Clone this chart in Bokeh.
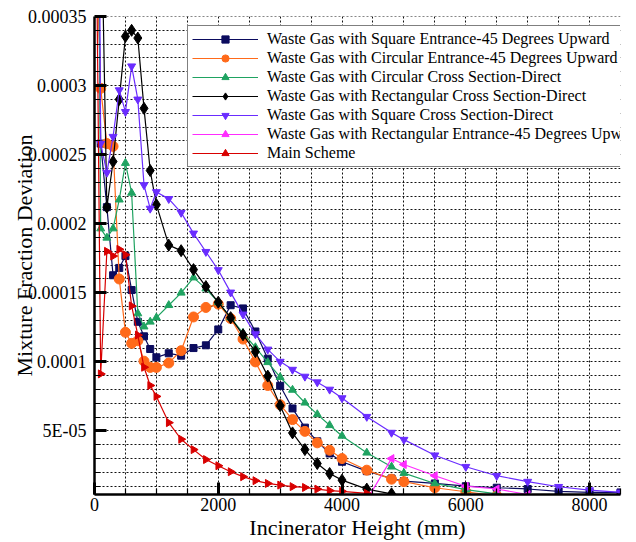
import math
from bokeh.plotting import figure
from bokeh.models import FixedTicker, CustomJSTickFormatter, Range1d
from bokeh.embed import file_html
from bokeh.resources import INLINE

# ---------------- data ----------------
X_A = [0, 100, 200, 300, 400, 500, 600, 700, 800, 900, 1000, 1200, 1400, 1600, 1800, 2000,
       2200, 2400, 2600, 2800, 3000, 3200, 3400, 3600, 3800, 4000, 4400, 4800, 5000, 5500,
       6000, 6500, 7000, 7500, 8000, 8500]

square_entrance_45 = [6.4e-4, 2.58e-4, 2.12e-4, 1.627e-4, 1.68e-4, 1.766e-4, 1.52e-4, 1.29e-4,
                      1.185e-4, 1.093e-4, 1.033e-4, 1.062e-4, 1.045e-4, 1.10e-4, 1.12e-4, 1.235e-4,
                      1.41e-4, 1.387e-4, 1.22e-4, 1.023e-4, 8.27e-5, 6.63e-5, 5.24e-5, 4.25e-5,
                      3.37e-5, 2.77e-5, 2.09e-5, 1.56e-5, 1.37e-5, 1.2e-5, 1.0e-5, 8.9e-6,
                      8.0e-6, 6.2e-6, 5.5e-6, 5.5e-6]

X_B = X_A[:32]
circular_entrance_45 = [4.5e-4, 2.98e-4, 2.58e-4, 2.56e-4, 1.60e-4, 1.214e-4, 1.134e-4, 1.153e-4,
                        1.005e-4, 9.6e-5, 9.6e-5, 9.92e-5, 1.081e-4, 1.325e-4, 1.394e-4, 1.418e-4,
                        1.314e-4, 1.165e-4, 1.0e-4, 8.29e-5, 6.9e-5, 5.82e-5, 4.97e-5, 4.14e-5,
                        3.6e-5, 3.0e-5, 2.16e-5, 1.51e-5, 1.33e-5, 8.9e-6, 6.0e-6, 3.0e-6]

circular_cross_direct = [9.0e-4, 1.965e-4, 1.898e-4, 1.965e-4, 2.174e-4, 2.439e-4, 2.223e-4, 1.35e-4,
                         1.255e-4, 1.29e-4, 1.32e-4, 1.41e-4, 1.50e-4, 1.61e-4, 1.53e-4, 1.43e-4,
                         1.32e-4, 1.209e-4, 1.105e-4, 9.97e-5, 8.89e-5, 7.97e-5, 7.04e-5, 6.2e-5,
                         5.41e-5, 4.64e-5, 3.42e-5, 2.41e-5, 1.95e-5, 1.2e-5, 7.5e-6, 4.5e-6]

X_D = X_A[1:28]
rect_cross_direct = [4.5e-4, 2.12e-4, 2.45e-4, 2.90e-4, 3.356e-4, 3.40e-4, 3.344e-4, 2.835e-4,
                     2.385e-4, 2.138e-4, 1.845e-4, 1.805e-4, 1.668e-4, 1.545e-4, 1.432e-4, 1.32e-4,
                     1.196e-4, 1.074e-4, 8.97e-5, 6.83e-5, 4.86e-5, 3.65e-5, 2.64e-5, 1.92e-5,
                     1.44e-5, 7.9e-6, 4.5e-6]

square_cross_direct = [1.0e-3, 2.58e-4, 2.37e-4, 2.63e-4, 2.967e-4, 2.81e-4, 3.14e-4, 2.90e-4,
                       2.28e-4, 2.11e-4, 2.23e-4, 2.18e-4, 2.08e-4, 1.93e-4, 1.797e-4, 1.665e-4,
                       1.503e-4, 1.344e-4, 1.201e-4, 1.09e-4, 1.002e-4, 9.44e-5, 8.94e-5, 8.53e-5,
                       8.0e-5, 7.38e-5, 6.03e-5, 4.88e-5, 4.37e-5, 3.24e-5, 2.41e-5, 1.76e-5,
                       1.33e-5, 9.6e-6, 7.2e-6, 5.5e-6]

X_F = [4400, 4800, 5000, 5500, 6000, 6500, 7000]
rect_entrance_45 = [0.0, 3.0e-5, 2.57e-5, 1.76e-5, 1.0e-5, 8.0e-6, 4.0e-6]

X_G = X_A[:27]
main_scheme = [5.5e-4, 9.13e-5, 1.80e-4, 1.766e-4, 1.815e-4, 1.775e-4, 1.405e-4, 1.194e-4,
               9.61e-5, 8.29e-5, 7.5e-5, 5.6e-5, 4.4e-5, 3.65e-5, 2.93e-5, 2.48e-5,
               2.05e-5, 1.69e-5, 1.4e-5, 1.2e-5, 1.08e-5, 9.7e-6, 9.1e-6, 7.9e-6,
               6.8e-6, 6.3e-6, 4.8e-6]

LABELS = ["Waste Gas with Square Entrance-45 Degrees Upward",
          "Waste Gas with Circular Entrance-45 Degrees Upward",
          "Waste Gas with Circular Cross Section-Direct",
          "Waste Gas with Rectangular Cross Section-Direct",
          "Waste Gas with Square Cross Section-Direct",
          "Waste Gas with Rectangular Entrance-45 Degrees Upward",
          "Main Scheme"]

X_MAJOR = [0, 2000, 4000, 6000, 8000]
X_GRID = [i * 500 for i in range(18)]
Y_MAJOR = [5e-05, 0.0001, 0.00015, 0.0002, 0.00025, 0.0003, 0.00035]
Y_MAJOR_LABELS = ["5E-05", "0.0001", "0.00015", "0.0002", "0.00025", "0.0003", "0.00035"]
Y_GRID = [i * 1e-05 for i in range(1, 36)]

# ---------------- figure ----------------
FONT = "'Liberation Serif', 'Times New Roman', serif"
p = figure(width=636, height=542, output_backend="svg", toolbar_location=None,
           x_range=Range1d(0, 8500), y_range=Range1d(4e-6, 3.5e-4),
           min_border_left=94, min_border_right=16, min_border_top=16, min_border_bottom=46)
p.outline_line_color = None
p.background_fill_color = "white"
p.border_fill_color = "white"

series = [
    (X_A, square_entrance_45, "#0b0b5e", "square", 7, 0),
    (X_B, circular_entrance_45, "#ff6a1a", "circle", 10, 0),
    (X_B, circular_cross_direct, "#1fa361", "triangle", 8, 0),
    (X_D, rect_cross_direct, "#000000", "diamond", 12, 0),
    (X_A, square_cross_direct, "#6a2cff", "inverted_triangle", 8, 0),
    (X_F, rect_entrance_45, "#ff2cff", "triangle", 8, math.pi / 2),
    (X_G, main_scheme, "#d80000", "triangle", 8, -math.pi / 2),
]
for (xs, ys, col, mk, sz, ang), lab in zip(series, LABELS):
    p.line(xs, ys, line_color=col, line_width=1.2, legend_label=lab)
    p.scatter(xs, ys, marker=mk, size=sz, angle=ang, fill_color=col, line_color=col,
              legend_label=lab)

# axes
for ax in (p.xaxis[0], p.yaxis[0]):
    ax.axis_line_width = 2.5
    ax.axis_line_color = "black"
    ax.major_tick_in = 12
    ax.major_tick_out = 0
    ax.minor_tick_in = 6
    ax.minor_tick_out = 0
    ax.major_tick_line_width = 3
    ax.minor_tick_line_width = 1.2
    ax.major_label_text_font = FONT
    ax.major_label_text_font_size = "18px"
    ax.major_label_text_font_style = "normal"
    ax.major_label_text_color = "black"
    ax.axis_label_text_font = FONT
    ax.axis_label_text_font_size = "22px"
    ax.axis_label_text_font_style = "normal"
    ax.axis_label_text_color = "black"

p.xaxis.ticker = FixedTicker(ticks=X_MAJOR, minor_ticks=X_GRID)
p.yaxis.ticker = FixedTicker(ticks=Y_MAJOR, minor_ticks=Y_GRID)
p.xaxis.major_label_standoff = 3
p.yaxis.major_label_standoff = 8
p.yaxis.formatter = CustomJSTickFormatter(args=dict(vals=Y_MAJOR, labs=Y_MAJOR_LABELS), code="""
let best = 0; let bd = 1e9;
for (let i = 0; i < vals.length; i++) { const d = Math.abs(vals[i] - tick); if (d < bd) { bd = d; best = i; } }
return labs[best];
""")
p.xaxis.axis_label = "Incinerator Height (mm)"
p.xaxis.axis_label_standoff = 1
p.yaxis.axis_label = "Mixture Fraction Deviation"
p.yaxis.axis_label_standoff = -12

p.xgrid.ticker = FixedTicker(ticks=X_GRID)
p.ygrid.ticker = FixedTicker(ticks=Y_GRID)
for g in (p.xgrid[0], p.ygrid[0]):
    g.grid_line_color = "#111111"
    g.grid_line_dash = "2 2"
    g.grid_line_width = 1

# legend
lg = p.legend[0]
lg.location = (93, 327)
lg.label_text_font = FONT
lg.label_text_font_size = "16px"
lg.label_text_font_style = "normal"
lg.label_text_color = "black"
lg.glyph_width = 66
lg.glyph_height = 18
lg.label_height = 18
lg.spacing = 1
lg.padding = 4
lg.margin = 0
lg.label_standoff = 9
lg.border_line_color = "black"
lg.border_line_width = 1.2
lg.background_fill_color = "white"
lg.background_fill_alpha = 1

open("out.html", "w").write(file_html(p, INLINE))
